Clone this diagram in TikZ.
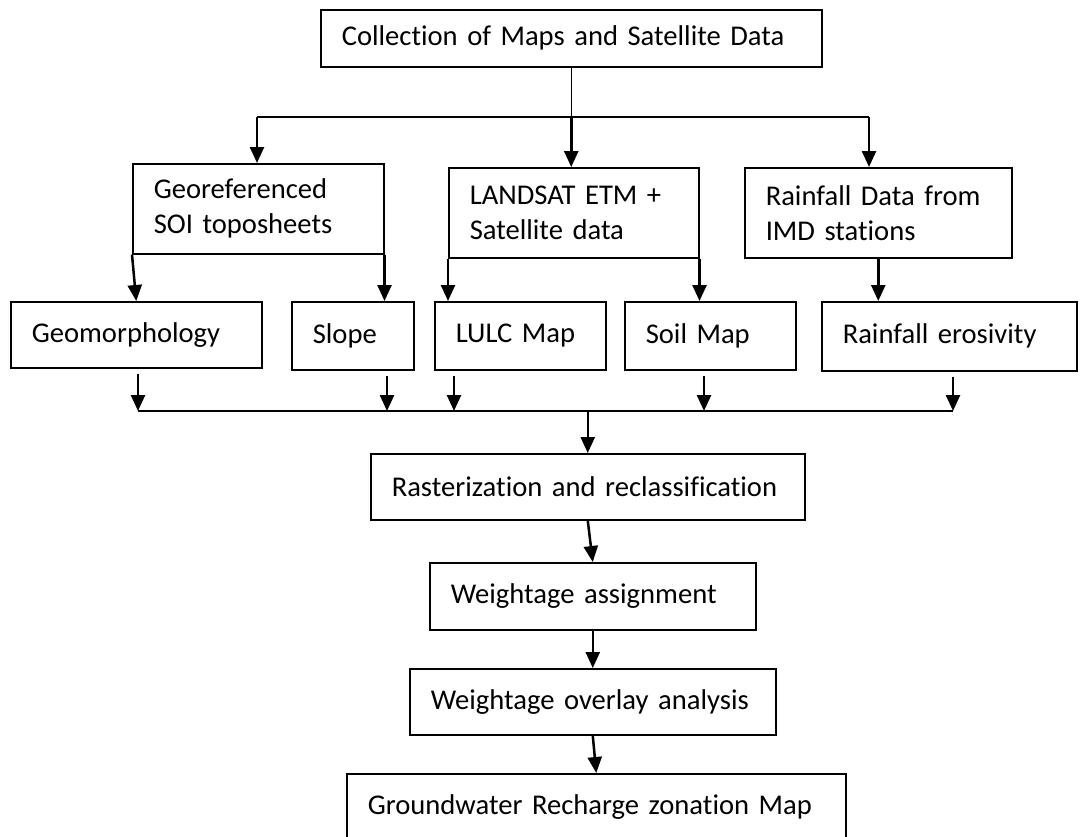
\documentclass[tikz,border=0pt]{standalone}
\usepackage{fontspec}
\setmainfont{Carlito}[Ligatures=NoCommon]
\usetikzlibrary{arrows.meta,calc}

\begin{document}
\begin{tikzpicture}[x=0.5pt, y=-0.5pt,
    box/.style={draw, line width=0.75pt, anchor=north west, align=left,
      inner xsep=10.5pt, inner ysep=0pt, font=\fontsize{14.3}{17.5}\selectfont},
    arr/.style={line width=1.25pt, -{Triangle[length=8pt,width=7pt]}},
    link/.style={line width=0.6pt}]
  \useasboundingbox (0,0) rectangle (1080,836);
  \clip (0,0) rectangle (1080,836);

  \node[box, text width=229.5pt, minimum height=28.5pt] (col) at (320,9) {Collection of Maps and Satellite Data};

  \node[box, text width=104.5pt, minimum height=45pt] (geo) at (132,163) {Georeferenced\\SOI toposheets};
  \node[box, text width=104pt, minimum height=45pt] (land) at (448,167) {LANDSAT ETM +\\Satellite data};
  \node[box, text width=112.5pt, minimum height=45pt] (rain) at (744,167) {Rainfall Data from\\IMD stations};

  \node[box, text width=104.5pt, minimum height=33pt] (geom) at (10,301) {Geomorphology};
  \node[box, text width=40pt, minimum height=34pt] (slope) at (291,301) {Slope};
  \node[box, text width=64.5pt, minimum height=34pt] (lulc) at (434,301) {LULC Map};
  \node[box, text width=64.5pt, minimum height=34pt] (soil) at (624,301) {Soil Map};
  \node[box, text width=106.5pt, minimum height=34.5pt] (eros) at (821,301) {Rainfall erosivity};

  \node[box, text width=196pt, minimum height=33pt] (rast) at (370,453) {Rasterization and reclassification};
  \node[box, text width=142pt, minimum height=33.5pt] (wass) at (429,562) {Weightage assignment};
  \node[box, text width=162pt, minimum height=33pt] (wov) at (409,668) {Weightage overlay analysis};
  \node[box, text width=228.5pt, minimum height=33pt] (gw) at (346,773) {Groundwater Recharge zonation Map};

  \coordinate (t1) at (257,117);
  \coordinate (t3) at (869,117);
  \draw[link] (col.south) -- (col.south |- t1);
  \draw[link] (t1) -- (t3);
  \draw[arr] (t1) -- (t1 |- geo.north);
  \draw[arr] (col.south |- t1) -- (col.south |- land.north);
  \draw[arr] (t3) -- (t3 |- rain.north);

  \draw[arr] (geo.south west) -- (geom.north);
  \draw[arr] (geo.south east) -- (geo.south east |- slope.north);
  \draw[arr] (land.south west) -- (land.south west |- lulc.north);
  \draw[arr] (land.south east) -- (land.south east |- soil.north);
  \draw[arr] (rain.south) -- (rain.south |- eros.north);

  \coordinate (b1) at (138,411);
  \coordinate (b2) at (387,411);
  \coordinate (b3) at (454,411);
  \coordinate (b4) at (704,411);
  \coordinate (b5) at (953,411);
  \draw[link] (b1) -- (b5);
  \foreach \s/\b in {geom/b1, slope/b2, lulc/b3, soil/b4, eros/b5}
    \draw[arr, shorten <=2.5pt] (\b |- \s.south) -- (\b);

  \draw[arr] (rast.north |- b1) -- (rast.north);
  \draw[arr] (rast.south) -- (wass.north);
  \draw[arr] (wass.south) -- (wov.north);
  \draw[arr] (wov.south) -- (gw.north);
\end{tikzpicture}
\end{document}
